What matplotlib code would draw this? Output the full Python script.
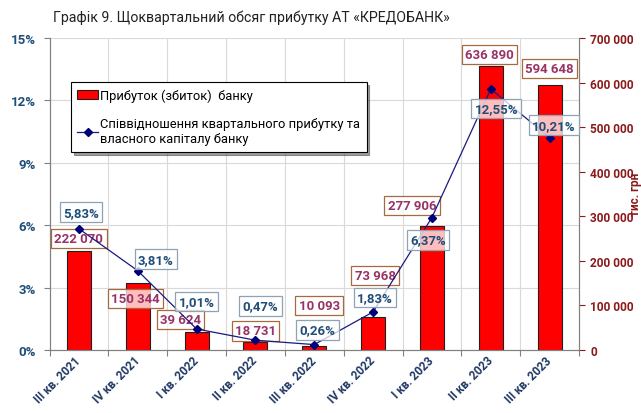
import matplotlib
matplotlib.use("Agg")
import matplotlib.pyplot as plt
from matplotlib.patches import Patch
from matplotlib.lines import Line2D
import numpy as np

plt.rcParams['font.family'] = ['Roboto', 'DejaVu Sans']

categories = ["III кв. 2021", "IV кв. 2021", "I кв. 2022", "II кв. 2022", "III кв. 2022",
              "IV кв. 2022", "I кв. 2023", "II кв. 2023", "III кв. 2023"]
profit = [222070, 150344, 39624, 18731, 10093, 73968, 277906, 636890, 594648]
ratio = [5.83, 3.81, 1.01, 0.47, 0.26, 1.83, 6.37, 12.55, 10.21]
pct_ticks = [0, 3, 6, 9, 12, 15]
amt_ticks = [0, 100000, 200000, 300000, 400000, 500000, 600000, 700000]

title = "Графік 9. Щоквартальний обсяг прибутку АТ «КРЕДОБАНК»"
legend_bar = "Прибуток (збиток)  банку"
legend_line = "Співвідношення квартального прибутку та\nвласного капіталу банку"
unit_label = "тис. грн"

# label offsets (pixels) – layout only
pct_off = [(2, 16.5), (18, 11.5), (0, 27.5), (5, 34.5), (3, 14.5), (2, 14.5), (-4, -22.5), (5.5, -19.5), (4.5, 12.5)]
amt_off = [(0, 12.7), (-2, -15.4), (-16, 12.9), (0, 10.7), (5, 40), (2, 41.6), (-20, 20.8), (-1.5, 11.6), (0, 16.4)]

C_PCT = "#1F4E79"
C_AMT = "#8B1A1A"
C_AMT_LBL = "#993366"
C_LINE = "#1A1A80"

fig = plt.figure(figsize=(6.41, 4.14), dpi=100)
ax_bar = fig.add_axes([49.5/641, 1-351/414, (579-49.5)/641, (351-39)/414])
ax_line = ax_bar.twinx()

x = np.arange(len(categories))

# bars (right axis)
ax_bar.bar(x, profit, width=0.41, color="#FF0000", edgecolor="#202020", linewidth=0.8, zorder=2)
ax_bar.set_ylim(0, 700000)
ax_bar.set_xlim(-0.5, len(categories) - 0.5)
ax_bar.yaxis.tick_right()
ax_bar.set_yticks(amt_ticks)
ax_bar.set_yticklabels([f"{v:,}".replace(",", " ") for v in amt_ticks])
ax_bar.tick_params(axis='y', colors=C_AMT, labelsize=8.6, length=4, width=0.8, pad=4)
for t in ax_bar.get_yticklabels():
    t.set_fontweight('bold')
    t.set_color(C_AMT)
fig.text(635/641, 1 - 194/414, unit_label, rotation=90, ha='center', va='center',
         color=C_AMT, fontsize=8.5, fontweight='bold')

# grid
for v in pct_ticks[1:]:
    ax_bar.axhline(v / 15 * 700000, color="#D9D9D9", lw=0.8, zorder=0)
for b in np.arange(0.5, len(categories) - 0.5, 1):
    ax_bar.axvline(b, color="#D9D9D9", lw=0.8, zorder=0)

ax_bar.set_xticks(np.arange(-0.5, len(categories), 1), minor=False)
ax_bar.set_xticklabels([])
ax_bar.tick_params(axis='x', length=4, width=0.8, color="#808080")
ax_bar.set_xticks(x, minor=True)
ax_bar.set_xticklabels(categories, minor=True, rotation=45, ha='right', va='center',
                       rotation_mode='anchor', fontsize=8.5, fontweight='bold', color="#1F3864")
ax_bar.tick_params(axis='x', which='minor', length=0, pad=6)

for s in ['top']:
    ax_bar.spines[s].set_visible(False)
    ax_line.spines[s].set_visible(False)
for s in ['left', 'right', 'bottom']:
    ax_bar.spines[s].set_color("#808080")
    ax_line.spines[s].set_color("#808080")

# line (left axis)
ax_line.yaxis.tick_left()
ax_line.plot(x, ratio, color=C_LINE, lw=0.9, marker='D', markersize=4.5,
             markerfacecolor="#00007A", markeredgecolor="#00007A", zorder=5)
ax_line.set_ylim(0, 15)
ax_line.set_yticks(pct_ticks)
ax_line.set_yticklabels([f"{v}%" for v in pct_ticks])
ax_line.tick_params(axis='y', labelsize=9.5, length=4, width=0.8, color="#808080", pad=6)
for t in ax_line.get_yticklabels():
    t.set_fontweight('bold')
    t.set_color(C_PCT)

# amount labels
for i, v in enumerate(profit):
    ax_bar.annotate(f"{v:,}".replace(",", " "), xy=(x[i], v), xytext=amt_off[i],
                    textcoords='offset pixels', ha='center', va='center',
                    fontsize=9.5, fontweight='bold', color=C_AMT_LBL, zorder=4,
                    bbox=dict(boxstyle='square,pad=0.25', facecolor=(1, 1, 1, 0.75),
                              edgecolor="#A86A3C", linewidth=0.9))

# percentage labels
for i, v in enumerate(ratio):
    ax_line.annotate(f"{v:.2f}".replace(".", ",") + "%", xy=(x[i], v), xytext=pct_off[i],
                     textcoords='offset pixels', ha='center', va='center',
                     fontsize=9.5, fontweight='bold', color=C_PCT, zorder=6,
                     bbox=dict(boxstyle='square,pad=0.25', facecolor=(1, 1, 1, 0.75),
                               edgecolor="#8FA3B5", linewidth=0.9))

# legend
handles = [Patch(facecolor="#FF0000", edgecolor="#202020", linewidth=0.8),
           Line2D([0], [0], color=C_LINE, lw=0.9, marker='D', markersize=4,
                  markerfacecolor="#00007A", markeredgecolor="#00007A")]
leg = ax_line.legend(handles, [legend_bar, legend_line], loc='upper left',
                     bbox_to_anchor=(0.0406, 0.859), borderaxespad=0, fancybox=False,
                     shadow={'ox': 2, 'oy': -2, 'color': '#404040'}, edgecolor='black',
                     framealpha=1, labelspacing=1.2, handlelength=1.6,
                     handletextpad=0.15, borderpad=0.5, prop={'size': 9.3})
leg.get_frame().set_linewidth(0.8)
leg.set_zorder(10)

fig.text(251/641, 1 - 18/414, title, ha='center', va='center', fontsize=10.2, color="#222222")

fig.savefig("out.png", dpi=100)
